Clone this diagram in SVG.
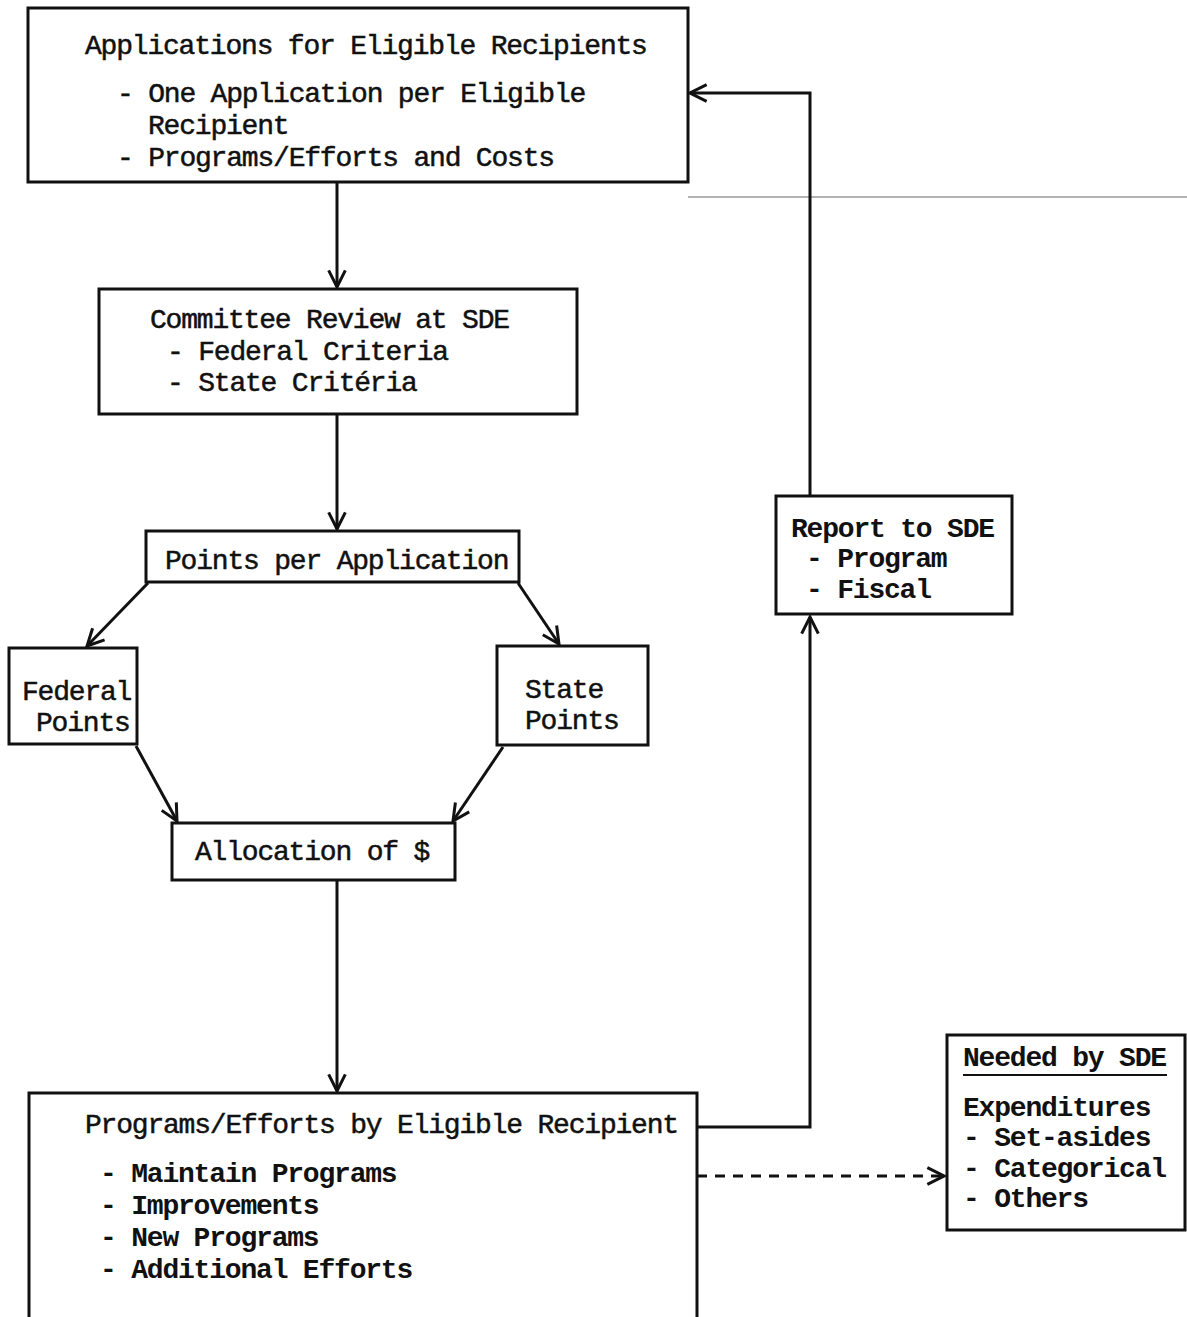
<svg xmlns="http://www.w3.org/2000/svg" width="1187" height="1317" viewBox="0 0 1187 1317">
<style>
.box{fill:#fff;stroke:#111;stroke-width:3}
.t{font-family:"Liberation Mono","DejaVu Sans Mono",monospace;font-size:28px;letter-spacing:-1.2px;fill:#111;stroke:#111;stroke-width:0.5}
.b{font-weight:bold;stroke-width:0}
.c{fill:none;stroke:#111;stroke-width:3}
</style>
<defs>
<marker id="ah" viewBox="0 0 12 12" refX="11" refY="6" markerWidth="20" markerHeight="20" markerUnits="userSpaceOnUse" orient="auto">
<path d="M1,1 L11,6 L1,11" fill="none" stroke="#111" stroke-width="1.8"/>
</marker>
</defs>
<rect width="1187" height="1317" fill="#fff"/>
<line x1="688" y1="197" x2="1187" y2="197" stroke="#999" stroke-width="1.5"/>
<g id="connectors">
<path class="c" d="M337,182 V287" marker-end="url(#ah)"/>
<path class="c" d="M337,414 V529" marker-end="url(#ah)"/>
<path class="c" d="M148,583 L87,646" marker-end="url(#ah)"/>
<path class="c" d="M518,583 L559,644" marker-end="url(#ah)"/>
<path class="c" d="M136,746 L177,821" marker-end="url(#ah)"/>
<path class="c" d="M503,747 L453,821" marker-end="url(#ah)"/>
<path class="c" d="M337,880 V1091" marker-end="url(#ah)"/>
<path class="c" d="M697,1127 H810 V617" marker-end="url(#ah)"/>
<path class="c" d="M810,496 V93 H690" marker-end="url(#ah)"/>
<path class="c" d="M697,1176 H944" stroke-dasharray="10,8" stroke-width="2.5" marker-end="url(#ah)"/>
</g>
<g id="applications">
<rect class="box" x="28" y="8" width="660" height="174"/>
<text class="t" x="85" y="54">Applications for Eligible Recipients</text>
<text class="t" x="117" y="102">- One Application per Eligible</text>
<text class="t" x="148" y="134">Recipient</text>
<text class="t" x="117" y="166">- Programs/Efforts and Costs</text>
</g>
<g id="committee">
<rect class="box" x="99" y="289" width="478" height="125"/>
<text class="t" x="150" y="328">Committee Review at SDE</text>
<text class="t" x="167" y="360">- Federal Criteria</text>
<text class="t" x="167" y="391">- State Critéria</text>
</g>
<g id="points">
<rect class="box" x="146" y="531" width="373" height="51"/>
<text class="t" x="165" y="569">Points per Application</text>
</g>
<g id="federal">
<rect class="box" x="9" y="648" width="128" height="96"/>
<text class="t" x="22" y="700">Federal</text>
<text class="t" x="36" y="731">Points</text>
</g>
<g id="state">
<rect class="box" x="497" y="646" width="151" height="99"/>
<text class="t" x="525" y="698">State</text>
<text class="t" x="525" y="729">Points</text>
</g>
<g id="allocation">
<rect class="box" x="172" y="823" width="283" height="57"/>
<text class="t" x="195" y="860">Allocation of $</text>
</g>
<g id="programs">
<rect class="box" x="29" y="1093" width="668" height="230"/>
<text class="t" x="85" y="1133">Programs/Efforts by Eligible Recipient</text>
<text class="t b" x="100" y="1182">- Maintain Programs</text>
<text class="t b" x="100" y="1214">- Improvements</text>
<text class="t b" x="100" y="1246">- New Programs</text>
<text class="t b" x="100" y="1278">- Additional Efforts</text>
</g>
<g id="report">
<rect class="box" x="776" y="496" width="236" height="118"/>
<text class="t b" x="791" y="537">Report to SDE</text>
<text class="t b" x="806" y="567">- Program</text>
<text class="t b" x="806" y="598">- Fiscal</text>
</g>
<g id="needed">
<rect class="box" x="947" y="1035" width="238" height="195"/>
<text class="t b" x="963" y="1066">Needed by SDE</text>
<line x1="963" y1="1075" x2="1167" y2="1075" stroke="#111" stroke-width="2"/>
<text class="t b" x="963" y="1116">Expenditures</text>
<text class="t b" x="963" y="1146">- Set-asides</text>
<text class="t b" x="963" y="1177">- Categorical</text>
<text class="t b" x="963" y="1207">- Others</text>
</g>
</svg>
